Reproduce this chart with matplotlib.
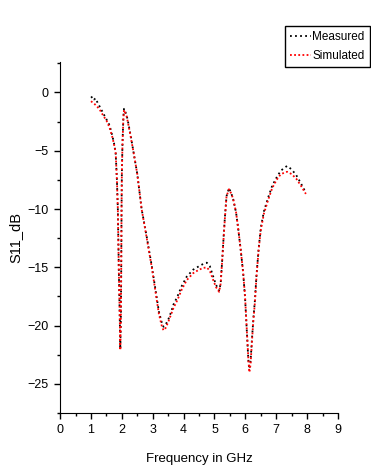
import numpy as np
import matplotlib.pyplot as plt
from matplotlib.ticker import MultipleLocator

# simulated S11 (GHz, dB)
f_sim = [1.0, 1.1, 1.2, 1.3, 1.4, 1.5, 1.6, 1.7, 1.75, 1.8, 1.84, 1.87, 1.9, 1.93, 1.95,
         1.97, 1.98, 1.99, 2.0, 2.02, 2.05, 2.07, 2.15, 2.2, 2.3, 2.37, 2.5, 2.64, 2.8,
         2.97, 3.13, 3.2, 3.3, 3.35, 3.4, 3.5, 3.6, 3.67, 3.8, 3.94, 4.1, 4.31, 4.5,
         4.64, 4.75, 4.85, 4.96, 5.05, 5.15, 5.2, 5.25, 5.3, 5.34, 5.39, 5.47, 5.55,
         5.61, 5.7, 5.76, 5.85, 5.93, 5.99, 6.03, 6.07, 6.1, 6.13, 6.17, 6.21, 6.26,
         6.31, 6.36, 6.43, 6.5, 6.6, 6.74, 6.87, 7.01, 7.15, 7.35, 7.5, 7.65, 7.8, 7.96]
s_sim = [-0.75, -0.95, -1.2, -1.55, -2.0, -2.4, -3.0, -3.9, -4.5, -5.2, -7.5, -10.0, -15.0,
         -19.0, -22.1, -19.0, -15.0, -10.0, -7.0, -4.5, -2.2, -1.5, -2.0, -2.6, -4.0,
         -5.0, -7.0, -10.0, -12.4, -15.0, -17.8, -19.0, -20.1, -20.4, -20.3, -19.7,
         -19.0, -18.5, -17.8, -16.9, -16.1, -15.5, -15.2, -15.05, -15.0, -15.3, -16.1,
         -16.7, -17.1, -16.4, -14.4, -12.3, -10.7, -8.9, -8.3, -8.7, -9.2, -10.3,
         -11.5, -13.5, -15.5, -17.5, -19.5, -21.5, -23.0, -24.0, -23.3, -21.5, -19.5,
         -18.0, -15.8, -13.5, -11.8, -10.4, -9.2, -8.2, -7.5, -7.0, -6.8, -7.0, -7.4,
         -8.0, -8.7]

# measured S11 (GHz, dB)
f_meas = [1.0, 1.05, 1.1, 1.15, 1.2, 1.3, 1.4, 1.5, 1.6, 1.7, 1.75, 1.8, 1.84, 1.87, 1.9,
          1.93, 1.95, 1.97, 1.98, 1.99, 2.0, 2.02, 2.05, 2.07, 2.15, 2.2, 2.3, 2.37, 2.5,
          2.64, 2.8, 2.97, 3.13, 3.2, 3.3, 3.35, 3.4, 3.5, 3.6, 3.67, 3.8, 3.94, 4.1,
          4.31, 4.5, 4.64, 4.75, 4.85, 4.96, 5.05, 5.15, 5.2, 5.25, 5.3, 5.34, 5.39,
          5.47, 5.55, 5.61, 5.7, 5.76, 5.85, 5.93, 5.99, 6.03, 6.07, 6.1, 6.13, 6.17,
          6.21, 6.26, 6.31, 6.36, 6.43, 6.5, 6.6, 6.74, 6.87, 7.01, 7.15, 7.3, 7.35,
          7.5, 7.65, 7.8, 7.96]
s_meas = [-0.45, -0.35, -0.6, -0.5, -0.8, -1.3, -1.8, -2.3, -2.8, -3.8, -4.4, -5.2, -7.5,
          -10.0, -15.0, -19.0, -22.0, -19.0, -15.0, -10.0, -7.0, -4.4, -2.1, -1.4, -1.9,
          -2.5, -3.9, -5.0, -7.0, -10.0, -12.3, -14.9, -17.6, -18.8, -19.8, -20.1,
          -20.0, -19.5, -18.8, -18.2, -17.5, -16.6, -15.8, -15.2, -14.9, -14.7, -14.6,
          -14.9, -15.8, -16.5, -17.0, -16.4, -14.4, -12.2, -10.6, -8.9, -8.2, -8.7,
          -9.2, -10.3, -11.5, -13.5, -15.5, -17.6, -19.6, -21.6, -23.1, -23.7, -23.0,
          -21.3, -19.4, -17.8, -15.7, -13.4, -11.6, -10.2, -9.0, -8.0, -7.3, -6.7, -6.4,
          -6.3, -6.6, -7.1, -7.8, -8.6]

plt.rcParams['font.family'] = ['Liberation Sans', 'DejaVu Sans']

fig = plt.figure(figsize=(3.71, 4.71), dpi=100)
ax = fig.add_axes([0.162, 0.123, 0.749, 0.745])

ax.plot(f_meas, s_meas, color='black', linestyle=(0, (1, 1.8)), linewidth=1.3, label='Measured')
ax.plot(f_sim, s_sim, color='red', linestyle=(0, (1, 1.3)), linewidth=1.3, label='Simulated')

ax.set_xlim(0, 9)
ax.set_ylim(-27.5, 2.6)
ax.xaxis.set_major_locator(MultipleLocator(1))
ax.xaxis.set_minor_locator(MultipleLocator(0.5))
ax.yaxis.set_major_locator(MultipleLocator(5))
ax.yaxis.set_minor_locator(MultipleLocator(2.5))
ax.tick_params(which='major', direction='out', length=4, width=1, labelsize=9, pad=4)
ax.tick_params(which='minor', direction='out', length=2.5, width=1)
ax.spines['top'].set_visible(False)
ax.spines['right'].set_visible(False)

ax.set_xlabel('Frequency in GHz', fontsize=9.5, labelpad=12)
ax.set_ylabel('S11_dB', fontsize=10.5, labelpad=4)

leg = fig.legend(loc='upper right', bbox_to_anchor=(1.0, 1 - 25 / 471),
                 fontsize=8.5, handlelength=1.8, handletextpad=0.1,
                 borderpad=0.45, borderaxespad=0.1, labelspacing=0.55,
                 fancybox=False, framealpha=1)
leg.get_frame().set_edgecolor('black')
leg.get_frame().set_linewidth(1)

fig.savefig('out.png', dpi=100)
